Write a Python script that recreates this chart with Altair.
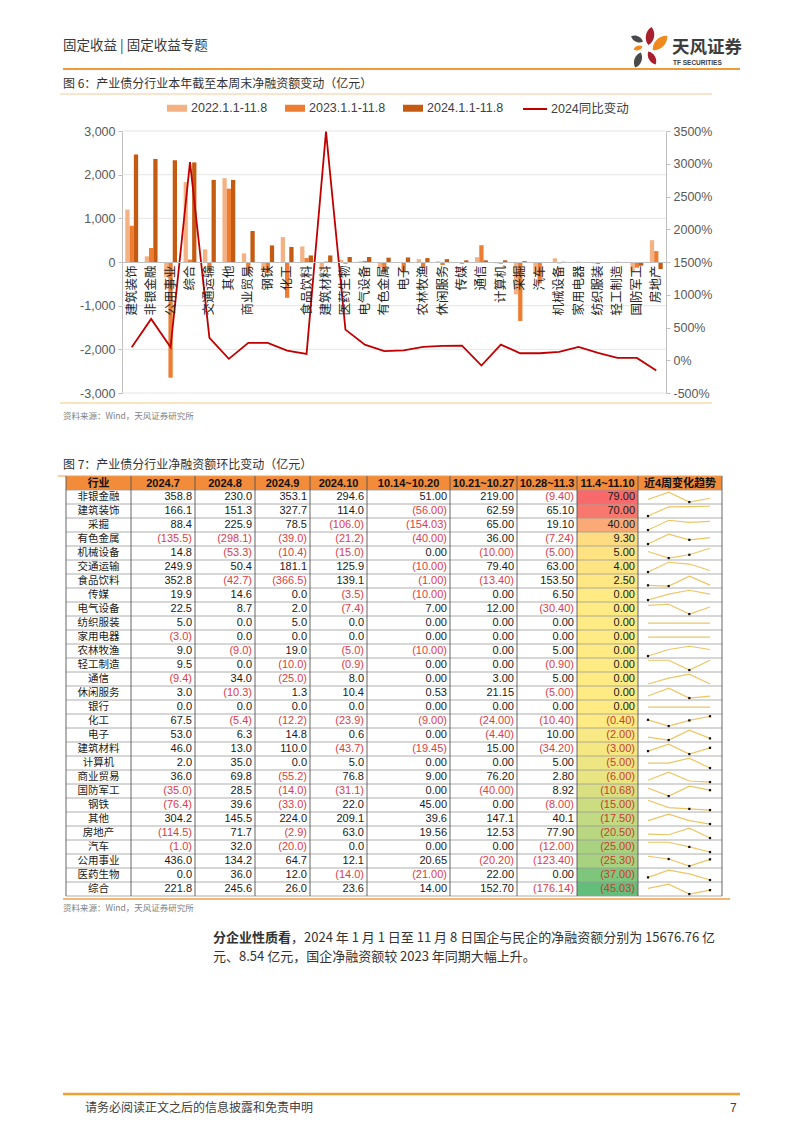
import altair as alt
import pandas as pd

W, H = 786, 1112
CJK = "Noto Sans CJK SC"
LAT = "Liberation Sans, Noto Sans CJK SC"
RED = "#E03C46"
INK = "#1a1a1a"

# ---------------- Figure 6 data ----------------
CATEGORIES = ["建筑装饰", "非银金融", "公用事业", "综合", "交通运输", "其他", "商业贸易", "钢铁",
              "化工", "食品饮料", "建筑材料", "医药生物", "电气设备", "有色金属", "电子", "农林牧渔",
              "休闲服务", "传媒", "通信", "计算机", "采掘", "汽车", "机械设备", "家用电器",
              "纺织服装", "轻工制造", "国防军工", "房地产"]
V2022 = [1200, 130, -350, 1830, 290, 1920, 200, -200, 570, 355, -170, 50, 15, -120, -10, 65,
         15, -10, 110, -30, -740, -260, 85, -10, -30, -20, -220, 500]
V2023 = [830, 320, -2650, 55, -200, 1680, -250, -250, -820, 90, 10, -40, 25, -230, -215, -110,
         -70, -40, 385, -38, -1350, -490, -30, 5, -45, 5, -130, 250]
V2024 = [2460, 2360, 2330, 2280, 1880, 1880, 710, 380, 345, 150, 150, 115, 115, 100, 105, 90,
         65, 38, 38, 38, 20, -5, 5, 0, -10, -5, -85, -160]
YOY = [198, 631, 198, 3024, 341, 21, 265, 265, 148, 98, 3490, 468, 239, 140, 150, 204,
       219, 224, -81, 239, 107, 107, 128, 204, 112, 36, 36, -157]
SERIES = ["2022.1.1-11.8", "2023.1.1-11.8", "2024.1.1-11.8"]
SERIES_COLORS = ["#F4B183", "#ED7D31", "#C55A11"]
LINE_NAME = "2024同比变动"
LEFT_TICKS = [-3000, -2000, -1000, 0, 1000, 2000, 3000]
RIGHT_TICKS = [-500, 0, 500, 1000, 1500, 2000, 2500, 3000, 3500]

# ---------------- Figure 7 table data ----------------
INDUSTRIES = ["非银金融", "建筑装饰", "采掘", "有色金属", "机械设备", "交通运输", "食品饮料", "传媒",
              "电气设备", "纺织服装", "家用电器", "农林牧渔", "轻工制造", "通信", "休闲服务", "银行",
              "化工", "电子", "建筑材料", "计算机", "商业贸易", "国防军工", "钢铁", "其他", "房地产",
              "汽车", "公用事业", "医药生物", "综合"]
COLS = ["2024.7", "2024.8", "2024.9", "2024.10", "10.14~10.20", "10.21~10.27", "10.28~11.3", "11.4~11.10"]
M7 = ["358.8", "166.1", "88.4", "(135.5)", "14.8", "249.9", "352.8", "19.9", "22.5", "5.0", "(3.0)", "9.0",
      "9.5", "(9.4)", "3.0", "0.0", "67.5", "53.0", "46.0", "2.0", "36.0", "(35.0)", "(76.4)", "304.2",
      "(114.5)", "(1.0)", "436.0", "0.0", "221.8"]
M8 = ["230.0", "151.3", "225.9", "(298.1)", "(53.3)", "50.4", "(42.7)", "14.6", "8.7", "0.0", "0.0", "(9.0)",
      "0.0", "34.0", "(10.3)", "0.0", "(5.4)", "6.3", "13.0", "35.0", "69.8", "28.5", "39.6", "145.5",
      "71.7", "32.0", "134.2", "36.0", "245.6"]
M9 = ["353.1", "327.7", "78.5", "(39.0)", "(10.4)", "181.1", "(366.5)", "0.0", "2.0", "5.0", "0.0", "19.0",
      "(10.0)", "(25.0)", "1.3", "0.0", "(12.2)", "14.8", "110.0", "0.0", "(55.2)", "(14.0)", "(33.0)",
      "224.0", "(2.9)", "(20.0)", "64.7", "12.0", "26.0"]
M10 = ["294.6", "114.0", "(106.0)", "(21.2)", "(15.0)", "125.9", "139.1", "(3.5)", "(7.4)", "0.0", "0.0",
       "(5.0)", "(0.9)", "8.0", "10.4", "0.0", "(23.9)", "0.6", "(43.7)", "5.0", "76.8", "(31.1)", "22.0",
       "209.1", "63.0", "0.0", "12.1", "(14.0)", "23.6"]
W1 = ["51.00", "(56.00)", "(154.03)", "(40.00)", "0.00", "(10.00)", "(1.00)", "(10.00)", "7.00", "0.00",
      "0.00", "(10.00)", "0.00", "0.00", "0.53", "0.00", "(9.00)", "0.00", "(19.45)", "0.00", "9.00", "0.00",
      "45.00", "39.6", "19.56", "0.00", "20.65", "(21.00)", "14.00"]
W2 = ["219.00", "62.59", "65.00", "36.00", "(10.00)", "79.40", "(13.40)", "0.00", "12.00", "0.00", "0.00",
      "0.00", "0.00", "3.00", "21.15", "0.00", "(24.00)", "(4.40)", "15.00", "0.00", "76.20", "(40.00)",
      "0.00", "147.1", "12.53", "0.00", "(20.20)", "22.00", "152.70"]
W3 = ["(9.40)", "65.10", "19.10", "(7.24)", "(5.00)", "63.00", "153.50", "6.50", "(30.40)", "0.00", "0.00",
      "5.00", "(0.90)", "5.00", "(5.00)", "0.00", "(10.40)", "10.00", "(34.20)", "5.00", "2.80", "8.92",
      "(8.00)", "40.1", "77.90", "(12.00)", "(123.40)", "0.00", "(176.14)"]
W4 = ["79.00", "70.00", "40.00", "9.30", "5.00", "4.00", "2.50", "0.00", "0.00", "0.00", "0.00", "0.00",
      "0.00", "0.00", "0.00", "0.00", "(0.40)", "(2.00)", "(3.00)", "(5.00)", "(6.00)", "(10.68)", "(15.00)",
      "(17.50)", "(20.50)", "(25.00)", "(25.30)", "(37.00)", "(45.03)"]
TABLE = [M7, M8, M9, M10, W1, W2, W3, W4]
WEEKS = COLS[4:8]


def parse(s):
    s = s.strip()
    if s.startswith("("):
        return -float(s.strip("()"))
    return float(s)


# ---------------- helpers for static page furniture ----------------
ONE = pd.DataFrame({"a": [0]})


def txt(text, x, y, size=12, color="#333333", weight="normal", align="left", font=CJK, baseline="alphabetic"):
    return alt.Chart(pd.DataFrame({"t": [text]})).mark_text(
        align=align, baseline=baseline, fontSize=size, color=color, fontWeight=weight, font=font
    ).encode(x=alt.value(x), y=alt.value(y), text="t:N")


def hline(x1, x2, y, color, width):
    return alt.Chart(ONE).mark_rule(color=color, strokeWidth=width).encode(
        x=alt.value(x1), x2=alt.value(x2), y=alt.value(y))


def vline(x, y1, y2, color, width):
    return alt.Chart(ONE).mark_rule(color=color, strokeWidth=width).encode(
        x=alt.value(x), y=alt.value(y1), y2=alt.value(y2))


layers = []

# ---------------- page header ----------------
layers.append(txt("固定收益 | 固定收益专题", 55, 42, size=13.5, color="#3a3a3a"))
LEAF = "M0,-1C0.6,-0.5 0.6,0.5 0,1C-0.6,0.5 -0.6,-0.5 0,-1Z"
for (px, py, sz, ang, col) in [(642, 28, 340, 10, "#A8202E"), (652, 35, 420, 45, "#F08A1C"),
                               (629, 31, 170, 115, "#4a4a4a"), (630, 40, 90, 70, "#F08A1C"),
                               (630, 52, 260, 20, "#4a4a4a"), (644, 50, 220, 330, "#A8202E")]:
    layers.append(alt.Chart(ONE).mark_point(shape=LEAF, filled=True, size=sz, angle=ang, color=col, opacity=1)
                  .encode(x=alt.value(px), y=alt.value(py)))
layers.append(txt("天风证券", 664, 45, size=17.5, color="#3d3d3d", weight="bold"))
layers.append(txt("TF SECURITIES", 665, 57, size=6.5, color="#3d3d3d", weight="bold", font=LAT))
layers.append(hline(55, 732, 61, "#EE9A3A", 2))

# ---------------- Figure 6 ----------------
layers.append(txt("图 6：产业债分行业本年截至本周末净融资额变动（亿元）", 55, 80, size=12, color="#333333"))
layers.append(hline(52, 704, 86, "#F6C99A", 1))

PX0, PX1, PY_TOP, PY_BOT, ZERO_Y = 114, 658, 123, 385, 254
yv = alt.Scale(domain=[-3000, 3000], range=[PY_BOT, PY_TOP], nice=False, zero=False)
yr = alt.Scale(domain=[-500, 3500], range=[PY_BOT, PY_TOP], nice=False, zero=False)

grid_df = pd.DataFrame({"v": [t for t in LEFT_TICKS if t != 0]})
layers.append(alt.Chart(grid_df).mark_rule(color="#dedede", strokeWidth=0.8).encode(
    y=alt.Y("v:Q", scale=yv, axis=None), x=alt.value(PX0), x2=alt.value(PX1)))

bar_df = pd.DataFrame({
    "category": CATEGORIES * 3,
    "series": [SERIES[0]] * len(CATEGORIES) + [SERIES[1]] * len(CATEGORIES) + [SERIES[2]] * len(CATEGORIES),
    "value": V2022 + V2023 + V2024,
})
bars = alt.Chart(bar_df).mark_bar().encode(
    x=alt.X("category:N",
            scale=alt.Scale(domain=CATEGORIES, range=[PX0, PX1], paddingInner=0.34, paddingOuter=0.17),
            axis=alt.Axis(orient="bottom", offset=ZERO_Y - H, title=None, labelAngle=270, labelFont=CJK,
                          labelFontSize=12.5, labelColor="#262626", ticks=False, domainColor="#bfbfbf",
                          domainWidth=1, labelPadding=3, labelOverlap=False, zindex=1)),
    xOffset=alt.XOffset("series:N", scale=alt.Scale(domain=SERIES, paddingInner=0, paddingOuter=0)),
    y=alt.Y("value:Q", scale=yv,
            axis=alt.Axis(orient="left", offset=-PX0, values=LEFT_TICKS, title=None, grid=False,
                          labelExpr="replace(format(datum.value, ','), '\u2212', '-')",
                          labelFont="Liberation Sans", labelFontSize=12.5, labelColor="#595959",
                          domainColor="#bfbfbf", tickColor="#bfbfbf", tickSize=4, labelPadding=3)),
    color=alt.Color("series:N", scale=alt.Scale(domain=SERIES, range=SERIES_COLORS),
                    legend=alt.Legend(orient="none", legendX=159, legendY=90, direction="horizontal",
                                      title=None, symbolType="M-1,-0.35L1,-0.35L1,0.35L-1,0.35Z",
                                      symbolSize=400, symbolStrokeWidth=0, symbolOpacity=1,
                                      labelFont="Liberation Sans", labelFontSize=12.5,
                                      labelColor="#404040", columnPadding=17, labelOffset=4)),
)
layers.append(bars)

line_df = pd.DataFrame({"category": CATEGORIES, "yoy": YOY, "name": [LINE_NAME] * len(CATEGORIES)})
line = alt.Chart(line_df).mark_line(strokeWidth=1.8).encode(
    x=alt.X("category:N", scale=alt.Scale(type="point", domain=CATEGORIES, range=[PX0, PX1], padding=0.5),
            axis=None),
    y=alt.Y("yoy:Q", scale=yr,
            axis=alt.Axis(orient="right", offset=PX1 - W, values=RIGHT_TICKS, title=None, grid=False,
                          labelExpr="replace(format(datum.value, 'd'), '\u2212', '-') + '%'",
                          labelFont="Liberation Sans", labelFontSize=12.5, labelColor="#595959",
                          domainColor="#bfbfbf", tickColor="#bfbfbf", tickSize=4, labelPadding=3)),
    color=alt.Color("name:N", scale=alt.Scale(domain=[LINE_NAME], range=["#C00000"]),
                    legend=alt.Legend(orient="none", legendX=514, legendY=88, title=None, symbolType="stroke",
                                      symbolSize=576, symbolStrokeWidth=2, labelFont=LAT,
                                      labelFontSize=12.5, labelColor="#404040", labelOffset=3)),
)
layers.append(line)

layers.append(hline(52, 704, 395, "#FBE3BF", 2))
layers.append(txt("资料来源：Wind，天风证券研究所", 55, 411, size=8.5, color="#7f7f7f"))

# ---------------- Figure 7 table ----------------
layers.append(txt("图 7：产业债分行业净融资额环比变动（亿元）", 55, 461, size=12, color="#333333"))

N = len(INDUSTRIES)
HEAD_TOP, ROW_TOP, ROW_BOT = 468, 482, 888
EDGES = [58, 123, 187, 247, 302, 359, 442, 509, 569, 630, 714]
rowq = alt.Scale(domain=[0, N], range=[ROW_TOP, ROW_BOT], nice=False, zero=False)

recs = []
for j, col in enumerate(COLS):
    for i, ind in enumerate(INDUSTRIES):
        v = parse(TABLE[j][i])
        recs.append({"industry": ind, "idx": i, "col": col, "text": TABLE[j][i], "value": v, "neg": v < 0})
tdf = pd.DataFrame(recs)

# heat-coloured last column
w4_vals = [parse(s) for s in W4]
mid = float(pd.Series(w4_vals).median())
layers.append(alt.Chart(tdf).transform_filter(alt.datum.col == COLS[7]).transform_calculate(
    idx1="datum.idx + 1").mark_rect().encode(
    y=alt.Y("idx:Q", scale=rowq, axis=None), y2="idx1:Q",
    x=alt.value(EDGES[8]), x2=alt.value(EDGES[9]),
    color=alt.Color("value:Q", scale=alt.Scale(domain=[min(w4_vals), mid, max(w4_vals)],
                                               range=["#63BE7B", "#FFEB84", "#F8696B"], interpolate="rgb"),
                    legend=None)))

# header band
layers.append(alt.Chart(ONE).mark_rect(color="#F28C3A").encode(
    x=alt.value(EDGES[0]), x2=alt.value(EDGES[-1]), y=alt.value(HEAD_TOP), y2=alt.value(ROW_TOP)))
layers.append(hline(50, EDGES[-1], HEAD_TOP, "#F0A050", 1))

# horizontal row lines
bdf = pd.DataFrame({"b": list(range(N + 1))})
layers.append(alt.Chart(bdf).mark_rule(color="#9a9a9a", strokeWidth=0.8).encode(
    y=alt.Y("b:Q", scale=rowq, axis=None), x=alt.value(EDGES[0]), x2=alt.value(EDGES[-1])))
# vertical column lines
for e in EDGES:
    layers.append(vline(e, HEAD_TOP, ROW_BOT, "#555555", 0.9))

# header texts
HEAD = ["行业"] + COLS + ["近4周变化趋势"]
for k, h in enumerate(HEAD):
    layers.append(txt(h, (EDGES[k] + EDGES[k + 1]) / 2, (HEAD_TOP + ROW_TOP) / 2 + 0.5, size=11, color="#111111",
                      weight="bold", align="center", font=LAT, baseline="middle"))

# industry names
ind_df = pd.DataFrame({"industry": INDUSTRIES, "idx": list(range(N))})
layers.append(alt.Chart(ind_df).transform_calculate(mid="datum.idx + 0.5").mark_text(
    align="center", baseline="middle", font=CJK, fontSize=10.5, color=INK).encode(
    x=alt.value((EDGES[0] + EDGES[1]) / 2), y=alt.Y("mid:Q", scale=rowq, axis=None), text="industry:N"))

# numeric cells
for j, col in enumerate(COLS):
    neg_col = "#C8402E" if j == 7 else RED
    layers.append(alt.Chart(tdf).transform_filter(alt.datum.col == col).transform_calculate(
        mid="datum.idx + 0.5").mark_text(align="right", baseline="middle", font="Liberation Sans",
                                          fontSize=11).encode(
        x=alt.value(EDGES[j + 2] - 3), y=alt.Y("mid:Q", scale=rowq, axis=None), text="text:N",
        color=alt.condition("datum.neg", alt.value(neg_col), alt.value(INK))))

# sparklines (last four weeks)
srecs = []
for i, ind in enumerate(INDUSTRIES):
    for k, wk in enumerate(WEEKS):
        srecs.append({"industry": ind, "idx": i, "week": wk, "k": k, "value": parse(TABLE[4 + k][i])})
sdf = pd.DataFrame(srecs)
spark_base = alt.Chart(sdf).transform_joinaggregate(
    mn="min(value)", mx="max(value)", groupby=["industry"]).transform_calculate(
    sy="datum.idx + 0.16 + 0.7 * (datum.mx == datum.mn ? 0.5 : (datum.mx - datum.value) / (datum.mx - datum.mn))")
sx = alt.X("week:N", scale=alt.Scale(type="point", domain=WEEKS, range=[640, 702], padding=0), axis=None)
layers.append(spark_base.mark_line(color="#EDC565", strokeWidth=1.2).encode(
    x=sx, y=alt.Y("sy:Q", scale=rowq, axis=None), detail="industry:N", order="k:Q"))
layers.append(spark_base.transform_filter("datum.value < 0").mark_square(size=5, color="#111111", opacity=1).encode(
    x=sx, y=alt.Y("sy:Q", scale=rowq, axis=None)))

layers.append(hline(55, 722, 891, "#F0A048", 1.5))
layers.append(txt("资料来源：Wind，天风证券研究所", 55, 903, size=8.5, color="#7f7f7f"))

# ---------------- paragraph ----------------
layers.append(txt("分企业性质看", 205, 934, size=13, color="#333333", weight="bold"))
layers.append(txt("，2024 年 1 月 1 日至 11 月 8 日国企与民企的净融资额分别为 15676.76 亿", 283, 934, size=13,
                  color="#333333"))
layers.append(txt("元、8.54 亿元，国企净融资额较 2023 年同期大幅上升。", 205, 953, size=13, color="#333333"))

# ---------------- footer ----------------
layers.append(hline(55, 732, 1086, "#F0A030", 2.5))
layers.append(txt("请务必阅读正文之后的信息披露和免责申明", 77, 1104, size=12, color="#404040"))
layers.append(txt("7", 722, 1104, size=12, color="#404040", font=LAT))

chart = alt.layer(*layers).resolve_scale(
    x="independent", y="independent", color="independent"
).properties(
    width=W, height=H, autosize=alt.AutoSizeParams(type="none"), padding=0, background="white"
).configure_view(stroke=None)

chart.save("out.html", embed_options={"renderer": "svg", "actions": False})
